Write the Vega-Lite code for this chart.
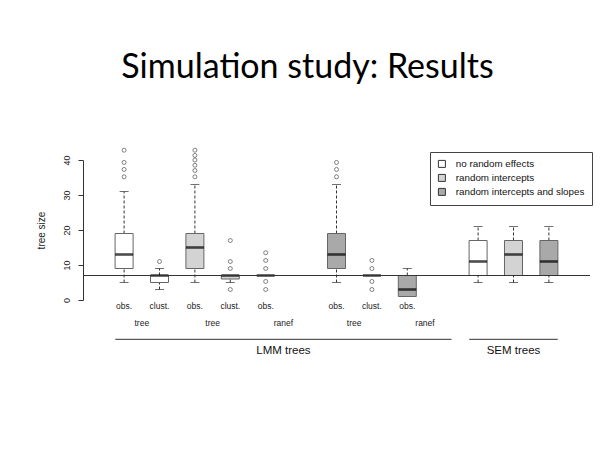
{
  "$schema": "https://vega.github.io/schema/vega-lite/v6.json",
  "width": 507,
  "height": 140,
  "autosize": "none",
  "padding": {"left": 83, "top": 160, "right": 18, "bottom": 159},
  "background": "white",
  "config": {"view": {"stroke": null}},
  "title": {
    "text": "Simulation study: Results",
    "font": "Lato",
    "fontSize": 34,
    "fontWeight": "normal",
    "color": "black",
    "anchor": "middle",
    "frame": "group",
    "baseline": "alphabetic",
    "dx": -29,
    "offset": 35
  },
  "resolve": {"axis": {"y": "independent"}},
  "datasets": {
    "boxes": [
      {"pos": 1, "model": "no random effects", "label": "obs.", "lower": 5, "q1": 9, "median": 13, "q3": 19, "upper": 31},
      {"pos": 2, "model": "no random effects", "label": "clust.", "lower": 3, "q1": 5, "median": 7, "q3": 7, "upper": 9},
      {"pos": 3, "model": "random intercepts", "label": "obs.", "lower": 5, "q1": 9, "median": 15, "q3": 19, "upper": 33},
      {"pos": 4, "model": "random intercepts", "label": "clust.", "lower": 5, "q1": 6, "median": 7, "q3": 7, "upper": 7},
      {"pos": 5, "model": "random intercepts", "label": "obs.", "lower": 7, "q1": 7, "median": 7, "q3": 7, "upper": 7},
      {"pos": 7, "model": "random intercepts and slopes", "label": "obs.", "lower": 5, "q1": 9, "median": 13, "q3": 19, "upper": 33},
      {"pos": 8, "model": "random intercepts and slopes", "label": "clust.", "lower": 7, "q1": 7, "median": 7, "q3": 7, "upper": 7},
      {"pos": 9, "model": "random intercepts and slopes", "label": "obs.", "lower": 1, "q1": 1, "median": 3, "q3": 7, "upper": 9},
      {"pos": 11, "model": "no random effects", "label": null, "lower": 5, "q1": 7, "median": 11, "q3": 17, "upper": 21},
      {"pos": 12, "model": "random intercepts", "label": null, "lower": 5, "q1": 7, "median": 13, "q3": 17, "upper": 21},
      {"pos": 13, "model": "random intercepts and slopes", "label": null, "lower": 5, "q1": 7, "median": 11, "q3": 17, "upper": 21}
    ],
    "outliers": [
      {"pos": 1, "value": 35.2}, {"pos": 1, "value": 37.3}, {"pos": 1, "value": 39.3}, {"pos": 1, "value": 42.8},
      {"pos": 2, "value": 11},
      {"pos": 3, "value": 35.2}, {"pos": 3, "value": 37}, {"pos": 3, "value": 38.5}, {"pos": 3, "value": 40}, {"pos": 3, "value": 41.3}, {"pos": 3, "value": 42.8},
      {"pos": 4, "value": 3}, {"pos": 4, "value": 9}, {"pos": 4, "value": 11}, {"pos": 4, "value": 17},
      {"pos": 5, "value": 3}, {"pos": 5, "value": 5.3}, {"pos": 5, "value": 9}, {"pos": 5, "value": 11.3}, {"pos": 5, "value": 13.5},
      {"pos": 7, "value": 35.2}, {"pos": 7, "value": 37.3}, {"pos": 7, "value": 39.3},
      {"pos": 8, "value": 3}, {"pos": 8, "value": 5.3}, {"pos": 8, "value": 9}, {"pos": 8, "value": 11.3}
    ],
    "groups": [
      {"name": "tree", "pos": 1.5},
      {"name": "tree", "pos": 3.5},
      {"name": "ranef", "pos": 5.5},
      {"name": "tree", "pos": 7.5},
      {"name": "ranef", "pos": 9.5}
    ],
    "sections": [
      {"name": "LMM trees", "from": 0.75, "to": 10.25, "mid": 5.5},
      {"name": "SEM trees", "from": 10.75, "to": 13.25, "mid": 12}
    ]
  },
  "layer": [
    {
      "data": {"name": "boxes"},
      "mark": {"type": "rule", "color": "#333", "strokeWidth": 1, "strokeDash": [3, 2]},
      "encoding": {
        "x": {"field": "pos", "type": "quantitative", "scale": {"domain": [-0.02, 14.02], "nice": false, "zero": false}, "axis": null},
        "y": {"field": "q3", "type": "quantitative", "scale": {"domain": [0, 40], "nice": false, "zero": false},
          "axis": {
            "values": [0, 10, 20, 30, 40],
            "grid": false,
            "domainColor": "#333",
            "tickColor": "#333",
            "tickSize": 5,
            "labelAngle": 270,
            "labelAlign": "center",
            "labelBaseline": "bottom",
            "labelPadding": 7,
            "labelOverlap": false,
            "labelFont": "Liberation Sans",
            "labelFontSize": 9,
            "labelColor": "#222",
            "title": "tree size",
            "titleFont": "Liberation Sans",
            "titleFontSize": 10,
            "titleFontWeight": "normal",
            "titleColor": "#222",
            "titlePadding": 16
          }
        },
        "y2": {"field": "upper"}
      }
    },
    {
      "data": {"name": "boxes"},
      "mark": {"type": "rule", "color": "#333", "strokeWidth": 1, "strokeDash": [3, 2]},
      "encoding": {
        "x": {"field": "pos", "type": "quantitative", "axis": null},
        "y": {"field": "lower", "type": "quantitative", "axis": null},
        "y2": {"field": "q1"}
      }
    },
    {
      "data": {"name": "boxes"},
      "mark": {"type": "tick", "orient": "horizontal", "size": 9, "thickness": 1, "color": "#333"},
      "encoding": {
        "x": {"field": "pos", "type": "quantitative", "axis": null},
        "y": {"field": "upper", "type": "quantitative", "axis": null}
      }
    },
    {
      "data": {"name": "boxes"},
      "mark": {"type": "tick", "orient": "horizontal", "size": 9, "thickness": 1, "color": "#333"},
      "encoding": {
        "x": {"field": "pos", "type": "quantitative", "axis": null},
        "y": {"field": "lower", "type": "quantitative", "axis": null}
      }
    },
    {
      "data": {"name": "boxes"},
      "mark": {"type": "bar", "size": 18, "stroke": "#666", "strokeWidth": 1},
      "encoding": {
        "x": {"field": "pos", "type": "quantitative", "axis": null},
        "y": {"field": "q1", "type": "quantitative", "axis": null},
        "y2": {"field": "q3"},
        "fill": {
          "field": "model",
          "type": "nominal",
          "scale": {"domain": ["no random effects", "random intercepts", "random intercepts and slopes"], "range": ["#ffffff", "#d3d3d3", "#a9a9a9"]},
          "legend": {
            "title": null,
            "orient": "none",
            "legendX": 347,
            "legendY": -8,
            "strokeColor": "#444",
            "fillColor": "white",
            "padding": 7,
            "symbolType": "square",
            "symbolSize": 49,
            "symbolStrokeColor": "#333",
            "symbolStrokeWidth": 1,
            "labelFont": "Liberation Sans",
            "labelFontSize": 9.8,
            "labelColor": "#111",
            "labelOffset": 9,
            "rowPadding": 2
          }
        }
      }
    },
    {
      "data": {"name": "boxes"},
      "mark": {"type": "tick", "orient": "horizontal", "size": 18, "thickness": 2.6, "color": "black"},
      "encoding": {
        "x": {"field": "pos", "type": "quantitative", "axis": null},
        "y": {"field": "median", "type": "quantitative", "axis": null}
      }
    },
    {
      "data": {"name": "outliers"},
      "mark": {"type": "point", "shape": "circle", "filled": false, "size": 16, "stroke": "#222", "strokeWidth": 0.8},
      "encoding": {
        "x": {"field": "pos", "type": "quantitative", "axis": null},
        "y": {"field": "value", "type": "quantitative", "axis": null}
      }
    },
    {
      "data": {"values": [{"ref": 7}]},
      "mark": {"type": "rule", "color": "#333", "strokeWidth": 1},
      "encoding": {
        "y": {"field": "ref", "type": "quantitative", "axis": null}
      }
    },
    {
      "data": {"name": "boxes"},
      "transform": [{"filter": "datum.label != null"}],
      "mark": {"type": "text", "font": "Liberation Sans", "fontSize": 8.5, "color": "#222", "baseline": "middle", "align": "center"},
      "encoding": {
        "x": {"field": "pos", "type": "quantitative", "axis": null},
        "y": {"datum": -1.7, "axis": null},
        "text": {"field": "label"}
      }
    },
    {
      "data": {"name": "groups"},
      "mark": {"type": "text", "font": "Liberation Sans", "fontSize": 8.5, "color": "#222", "baseline": "middle", "align": "center"},
      "encoding": {
        "x": {"field": "pos", "type": "quantitative", "axis": null},
        "y": {"datum": -6.66, "axis": null},
        "text": {"field": "name"}
      }
    },
    {
      "data": {"name": "sections"},
      "mark": {"type": "rule", "color": "#333", "strokeWidth": 1},
      "encoding": {
        "x": {"field": "from", "type": "quantitative", "axis": null},
        "x2": {"field": "to"},
        "y": {"datum": -11.23, "axis": null}
      }
    },
    {
      "data": {"name": "sections"},
      "mark": {"type": "text", "font": "Liberation Sans", "fontSize": 11.5, "color": "#111", "baseline": "middle", "align": "center"},
      "encoding": {
        "x": {"field": "mid", "type": "quantitative", "axis": null},
        "y": {"datum": -14.57, "axis": null},
        "text": {"field": "name"}
      }
    }
  ]
}
